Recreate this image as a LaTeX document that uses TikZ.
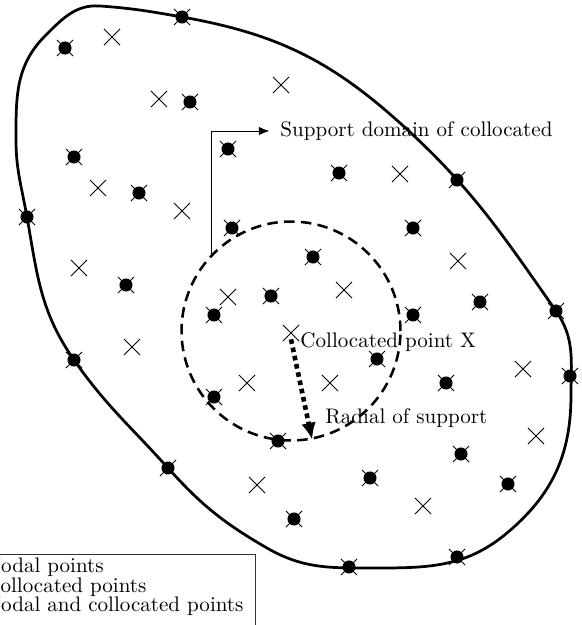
\documentclass[tikz,border=0pt]{standalone}
\usepackage{tikz}
\usetikzlibrary{arrows.meta,shapes.misc}

\begin{document}
\begin{tikzpicture}[
  x=0.475pt, y=-0.475pt,
  colpt/.style={draw, cross out, minimum size=7.2pt, inner sep=0pt, line width=0.45pt},
  nodpt/.style={circle, fill, minimum size=6.2pt, inner sep=0pt},
  lbl/.style={font=\normalsize, inner sep=0pt},
  arr/.style={-{Latex[length=5pt,width=4pt]}, line width=0.45pt}
]
\clip (0,0) rectangle (582,625);
% domain boundary
\draw[line width=1.3pt]
  (100,6) to[out=-4,in=170] (182,17)
  to[out=-10,in=138] (400,123)
  to[out=-42,in=125] (556,311)
  to[out=-55,in=90] (571,395)
  to[out=-90,in=40] (507,533)
  to[out=-140,in=0] (370,568)
  to[out=180,in=-30] (267,548)
  to[out=150,in=-48] (168,468)
  to[out=132,in=-55] (74,360)
  to[out=125,in=-80] (27,217)
  to[out=100,in=-90] (16,140)
  to[out=90,in=-135] (45,36)
  to[out=45,in=176] cycle;
% support domain
\node[draw, circle, dashed, dash pattern=on 5pt off 3pt, line width=1.2pt,
  minimum size=104pt, inner sep=0pt] (support) at (291,331) {};
% collocated points only
\foreach \x/\y in {112/37, 159/99, 281/85, 98/188, 182/211, 400/174, 458/261,
  344/290, 79/268, 228/297, 132/347, 247/383, 257/485, 330/383, 523/369,
  536/436, 423/506}
  \node[colpt] at (\x,\y) {};
\node[colpt] (colX) at (291,333) {};
% nodal and collocated points
\foreach \x/\y in {182/17, 65/48, 190/102, 228/149, 74/157, 139/193, 27/217,
  232/228, 339/173, 457/180, 413/228, 313/257, 480/302, 556/311, 413/315,
  126/285, 271/296, 214/315, 74/360, 214/397, 278/441, 168/468, 294/519,
  377/359, 446/383, 570/376, 461/454, 370/478, 508/484, 457/557, 349/567}
  {\node[nodpt] at (\x,\y) {};
   \node[colpt] at (\x,\y) {};}
% labels
\node[lbl, anchor=west] (domlabel) at (280,131) {Support domain of collocated};
\node[lbl, anchor=west] (colXlabel) at (300,342) {Collocated point X};
\node[lbl, anchor=west] (radlabel) at (325,418) {Radial of support};
\draw[arr] (support.136) |- ([xshift=-5pt]domlabel.west);
\draw[-{Latex[length=8pt,width=7pt]}, line width=2.2pt, dash pattern=on 2.2pt off 1.8pt]
  ([yshift=-3pt]colX.center) -- (support.-79);
% legend
\draw[line width=0.45pt, black!80] (-40,554) rectangle (255,700);
\node[lbl, anchor=base west] (leg1) at (-15,572) {Nodal points};
\node[lbl, anchor=base west] (leg2) at (-15,592) {Collocated points};
\node[lbl, anchor=base west] (leg3) at (-15,611) {Nodal and collocated points};
\end{tikzpicture}
\end{document}
